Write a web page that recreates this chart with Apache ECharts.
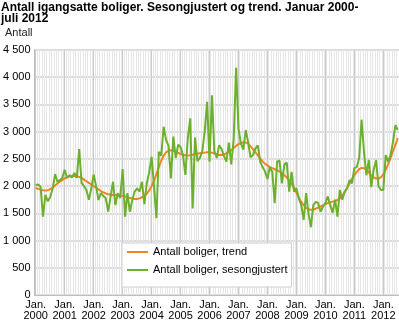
<!DOCTYPE html>
<html><head><meta charset="utf-8">
<script src="https://cdn.jsdelivr.net/npm/echarts@6/dist/echarts.min.js"></script>
<style>html,body{margin:0;padding:0;background:#fff}#c{width:399px;height:323px}</style>
</head><body><div id="c"></div>
<script>
const titleLine1 = 'Antall igangsatte boliger. Sesongjustert og trend. Januar 2000-';
const titleLine2 = 'juli 2012';
const yAxisName = 'Antall';
const seriesNames = ['Antall boliger, trend', 'Antall boliger, sesongjustert'];
const years = ['2000','2001','2002','2003','2004','2005','2006','2007','2008','2009','2010','2011','2012'];
const monthsIn2012 = 7;

// Seasonally adjusted (green), per year
const sa2000 = [2020, 2030, 1990, 1440, 1840, 1720, 1800, 1950, 2220, 2080, 2110, 2150];
const sa2001 = [2300, 2150, 2200, 2160, 2240, 2150, 2680, 2060, 2000, 1930, 1750, 1950];
const sa2002 = [2215, 2000, 1745, 1870, 1820, 1780, 1530, 1800, 2080, 1650, 1870, 1780];
const sa2003 = [2315, 1440, 1870, 1530, 1745, 1900, 1960, 1900, 2080, 1670, 2050, 2250];
const sa2004 = [2540, 2000, 1410, 2630, 2560, 3090, 2850, 2740, 2140, 2910, 2520, 2760];
const sa2005 = [2720, 2570, 2205, 2880, 3245, 1590, 2890, 2460, 2520, 2640, 3000, 3550];
const sa2006 = [2450, 3670, 2640, 2520, 2750, 2680, 2550, 2450, 2800, 2400, 2850, 4175];
const sa2007 = [3060, 2780, 2670, 3030, 2800, 2530, 2570, 2690, 2750, 2450, 2350, 2270];
const sa2008 = [2130, 2350, 2260, 1685, 2450, 2470, 2050, 2400, 2430, 1900, 2260, 1900];
const sa2009 = [1960, 1775, 1650, 1380, 1870, 1500, 1245, 1650, 1710, 1690, 1530, 1620];
const sa2010 = [1690, 1810, 1650, 1510, 1750, 1440, 1930, 1750, 1900, 1960, 2110, 2050];
const sa2011 = [2330, 2350, 2510, 3220, 2630, 2200, 2480, 1980, 2300, 2480, 2000, 1930];
const sa2012 = [1930, 2570, 2450, 2570, 2810, 3120, 3030];

// Trend (orange), per year
const tr2000 = [1960, 1950, 1935, 1925, 1920, 1925, 1945, 1975, 2010, 2050, 2080, 2110];
const tr2001 = [2140, 2165, 2180, 2185, 2185, 2180, 2170, 2150, 2120, 2090, 2060, 2030];
const tr2002 = [2000, 1970, 1940, 1910, 1885, 1865, 1850, 1840, 1835, 1835, 1835, 1830];
const tr2003 = [1820, 1810, 1795, 1780, 1770, 1765, 1765, 1775, 1795, 1820, 1860, 1920];
const tr2004 = [2000, 2100, 2220, 2350, 2470, 2560, 2620, 2650, 2660, 2650, 2630, 2610];
const tr2005 = [2590, 2575, 2565, 2560, 2565, 2575, 2590, 2600, 2605, 2610, 2615, 2620];
const tr2006 = [2620, 2615, 2600, 2580, 2570, 2570, 2580, 2600, 2630, 2660, 2700, 2740];
const tr2007 = [2770, 2790, 2800, 2800, 2780, 2730, 2680, 2620, 2570, 2510, 2450, 2410];
const tr2008 = [2380, 2350, 2330, 2310, 2290, 2270, 2240, 2200, 2160, 2100, 2040, 1970];
const tr2009 = [1880, 1790, 1710, 1650, 1600, 1575, 1565, 1570, 1585, 1605, 1625, 1645];
const tr2010 = [1670, 1690, 1705, 1715, 1725, 1745, 1775, 1820, 1890, 1970, 2050, 2130];
const tr2011 = [2200, 2260, 2310, 2335, 2330, 2300, 2250, 2200, 2160, 2140, 2140, 2160];
const tr2012 = [2220, 2300, 2400, 2520, 2640, 2760, 2880];

const saValues = [].concat(sa2000, sa2001, sa2002, sa2003, sa2004, sa2005, sa2006, sa2007, sa2008, sa2009, sa2010, sa2011, sa2012);
const trendValues = [].concat(tr2000, tr2001, tr2002, tr2003, tr2004, tr2005, tr2006, tr2007, tr2008, tr2009, tr2010, tr2011, tr2012);

const categories = [];
years.forEach((y, yi) => {
  const n = yi === years.length - 1 ? monthsIn2012 : 12;
  for (let m = 1; m <= n; m++) categories.push(y + 'M' + String(m).padStart(2, '0'));
});

const FONT = '"Liberation Sans", Arial, sans-serif';
const ORANGE = '#f58220', GREEN = '#6cb02e';
const titleStyle = { fontSize: 12, fontWeight: 'bold', color: '#000', fontFamily: FONT };
const chart = echarts.init(document.getElementById('c'));
chart.setOption({
  animation: false,
  textStyle: { fontFamily: FONT },
  title: [
    { text: titleLine1, left: 1, top: 2, padding: 0, textStyle: titleStyle },
    { text: titleLine2, left: 1, top: 13, padding: 0, textStyle: titleStyle },
    { text: yAxisName, left: 5, top: 27, padding: 0,
      textStyle: { fontSize: 11, fontWeight: 'normal', color: '#222', fontFamily: FONT } }
  ],
  grid: { left: 33, right: 0, top: 50, bottom: 28 },
  legend: {
    data: [
      { name: seriesNames[0], icon: 'rect', itemStyle: { color: ORANGE } },
      { name: seriesNames[1], icon: 'rect', itemStyle: { color: GREEN } }
    ],
    orient: 'vertical', left: 122, top: 243,
    itemWidth: 21, itemHeight: 2, itemGap: 4,
    padding: [2, 4, 10, 5],
    backgroundColor: '#fff', borderColor: '#d0d0d0', borderWidth: 1,
    textStyle: { fontSize: 11, color: '#000', lineHeight: 14, fontFamily: FONT }
  },
  xAxis: [
    { type: 'category', data: categories, boundaryGap: true,
      axisLine: { show: true, lineStyle: { color: '#bdbdbd', width: 1 } },
      axisTick: { show: false },
      axisLabel: { interval: 11, fontSize: 11, lineHeight: 11, color: '#000', margin: 4,
        formatter: (v) => 'Jan.\n' + v.slice(0, 4) },
      splitLine: { show: true, interval: 0, lineStyle: { color: '#e6e6e6', width: 1 } } },
    { type: 'category', data: categories, boundaryGap: true, position: 'bottom',
      axisLine: { show: false }, axisTick: { show: false }, axisLabel: { show: false },
      splitLine: { show: true, alignWithLabel: true, interval: (i) => i % 12 === 0,
        lineStyle: { color: '#cacaca', width: 1 } } }
  ],
  yAxis: {
    type: 'value', min: 0, max: 4500, interval: 500,
    axisLine: { show: true, lineStyle: { color: '#bdbdbd', width: 1 } },
    axisTick: { show: false },
    axisLabel: { fontSize: 11, color: '#000', margin: 4,
      formatter: (v) => v >= 1000 ? Math.floor(v / 1000) + ' ' + String(v % 1000).padStart(3, '0') : String(v) },
    splitLine: { show: true, lineStyle: { color: '#dcdcdc', width: 2 } }
  },
  series: [
    { name: seriesNames[0], type: 'line', data: trendValues, symbol: 'none',
      lineStyle: { color: ORANGE, width: 2 }, itemStyle: { color: ORANGE } },
    { name: seriesNames[1], type: 'line', data: saValues, symbol: 'none',
      lineStyle: { color: GREEN, width: 2 }, itemStyle: { color: GREEN } }
  ]
});
</script>
</body></html>
